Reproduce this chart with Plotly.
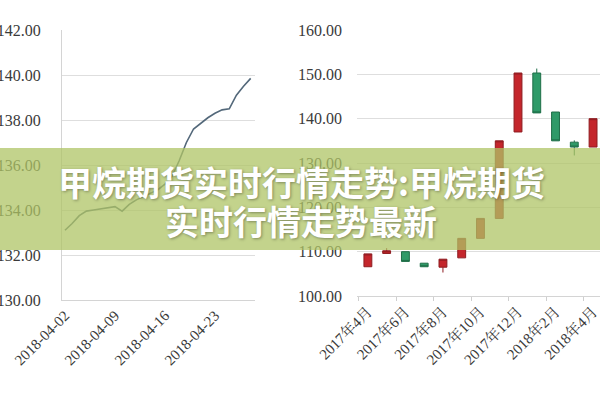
import plotly.graph_objects as go

# ---- left chart: daily line ----
line_dates = ["2018-04-02", "2018-04-03", "2018-04-04", "2018-04-05", "2018-04-06",
              "2018-04-07", "2018-04-08", "2018-04-09", "2018-04-10", "2018-04-11",
              "2018-04-12", "2018-04-13", "2018-04-14", "2018-04-15", "2018-04-16",
              "2018-04-17", "2018-04-18", "2018-04-19", "2018-04-20", "2018-04-21",
              "2018-04-22", "2018-04-23", "2018-04-24", "2018-04-25", "2018-04-26",
              "2018-04-27", "2018-04-28"]
line_values = [133.1, 133.4, 133.75, 133.95, 134.0, 134.05, 134.1, 134.15, 133.95, 134.25,
               134.45, 134.6, 134.75, 134.9, 135.15, 135.5, 136.2, 137.0, 137.6, 137.85,
               138.1, 138.3, 138.45, 138.5, 139.1, 139.5, 139.85]
line_ticks = ["2018-04-02", "2018-04-09", "2018-04-16", "2018-04-23"]

# ---- right chart: monthly candles ----
months = ["2017年4月", "2017年5月", "2017年6月", "2017年7月", "2017年8月", "2017年9月",
          "2017年10月", "2017年11月", "2017年12月", "2018年1月", "2018年2月", "2018年3月",
          "2018年4月"]
c_open = [106.6, 109.6, 110.0, 107.4, 106.5, 108.6, 113.0, 117.5, 137.0, 150.3, 141.5, 134.7, 133.6]
c_close = [109.5, 110.2, 107.8, 106.6, 108.3, 113.0, 117.5, 135.0, 150.3, 141.3, 135.0, 133.6, 140.0]
c_high = [109.5, 110.8, 110.0, 107.4, 108.3, 113.0, 117.5, 135.0, 150.3, 151.3, 141.5, 135.1, 140.0]
c_low = [106.6, 109.6, 107.8, 106.6, 105.3, 108.6, 113.0, 117.5, 137.0, 141.3, 135.0, 131.7, 133.6]

title_line1 = "甲烷期货实时行情走势:甲烷期货"
title_line2 = "实时行情走势最新"

serif = "Liberation Serif, Noto Serif CJK SC, Noto Sans CJK SC, serif"
ytick_font = dict(family=serif, size=16, color="#3a3a3a")
xtick_font = dict(family=serif, size=15, color="#3a3a3a")
grid = "#dedede"

fig = go.Figure()
fig.add_trace(go.Scatter(x=line_dates, y=line_values, mode="lines",
                         line=dict(color="#53687a", width=1.6),
                         xaxis="x", yaxis="y", showlegend=False))
fig.add_trace(go.Candlestick(x=months, open=c_open, high=c_high, low=c_low, close=c_close,
                             increasing=dict(line=dict(color="#8e1c20", width=1), fillcolor="#c4262c"),
                             decreasing=dict(line=dict(color="#1f6e48", width=1), fillcolor="#2f9a68"),
                             xaxis="x2", yaxis="y2", showlegend=False))

fig.update_layout(
    width=600, height=400,
    margin=dict(l=0, r=0, t=0, b=0),
    paper_bgcolor="white", plot_bgcolor="white",
    showlegend=False,
    boxgap=0.4,
    xaxis=dict(domain=[62/600, 255/600], type="date",
               range=["2018-04-01 14:00", "2018-04-28 14:30"],
               tickmode="array", tickvals=line_ticks, tickformat="%Y-%m-%d",
               tickangle=-45, tickfont=xtick_font, showgrid=False, zeroline=False,
               showline=True, linecolor="#d4d4d4", linewidth=1, ticks="",
               automargin=False, anchor="y"),
    yaxis=dict(domain=[0.25, 0.925], range=[130, 142], dtick=2, tick0=130,
               tickformat=".2f", tickfont=ytick_font, gridcolor=grid, zeroline=False,
               showline=True, linecolor="#d4d4d4", linewidth=1, ticks="",
               ticklabelstandoff=17, automargin=False, anchor="x"),
    xaxis2=dict(domain=[357/600, 1.0], type="category", range=[-0.58, 12.37],
                dtick=2, tickangle=-45, tickfont=xtick_font, showgrid=False,
                tickson="boundaries", ticks="outside", ticklen=4, tickcolor="#cfcfcf",
                showline=True, linecolor="#d4d4d4", linewidth=1,
                rangeslider=dict(visible=False), automargin=False, anchor="y2"),
    yaxis2=dict(domain=[0.26, 0.925], range=[100, 160], dtick=10, tick0=100,
                tickformat=".2f", tickfont=ytick_font, gridcolor=grid, zeroline=False,
                showline=False, ticks="", ticklabelstandoff=14,
                automargin=False, anchor="x2"),
    shapes=[dict(type="rect", xref="paper", yref="paper", x0=0, x1=1, y0=0.375, y1=0.63,
                 fillcolor="rgba(175,196,102,0.75)", line=dict(width=0), layer="above")],
    annotations=[
        dict(text=title_line1, x=0.502, y=0.545, xref="paper", yref="paper",
             xanchor="center", yanchor="middle", showarrow=False,
             font=dict(family="Noto Sans CJK SC", size=34, color="white", weight="bold",
                       shadow="1px 1px 3px rgba(0,0,0,0.35)")),
        dict(text=title_line2, x=0.502, y=0.45, xref="paper", yref="paper",
             xanchor="center", yanchor="middle", showarrow=False,
             font=dict(family="Noto Sans CJK SC", size=34, color="white", weight="bold",
                       shadow="1px 1px 3px rgba(0,0,0,0.35)")),
    ],
)

fig.write_html("out.html", config={"displayModeBar": False},
               post_script="document.body.style.margin='0';")
